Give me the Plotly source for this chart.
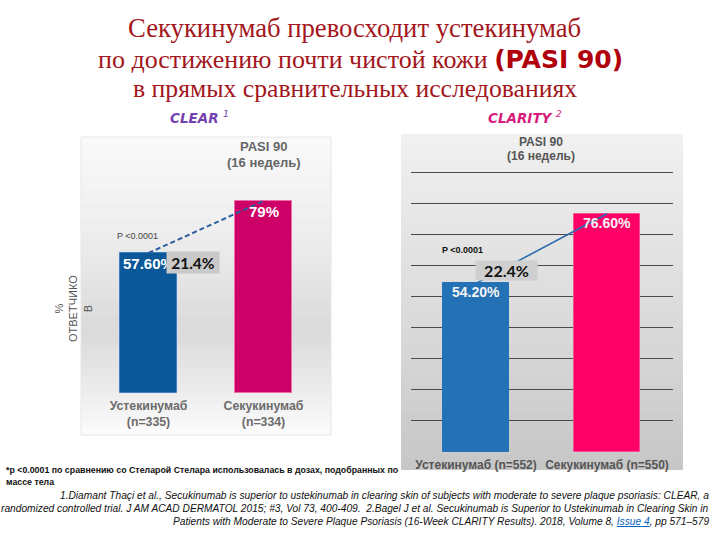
import plotly.graph_objects as go

# ---------------- data ----------------
clear_categories = ["Устекинумаб<br>(n=335)", "Секукинумаб<br>(n=334)"]
clear_values = [57.6, 79.0]
clear_labels = ["57.60%", "79%"]
clear_diff = "21.4%"

clarity_categories = ["Устекинумаб (n=552)", "Секукинумаб (n=550)"]
clarity_values = [54.2, 76.6]
clarity_labels = ["54.20%", "76.60%"]
clarity_diff = "22.4%"

clarity_grid = [0, 10, 20, 30, 40, 50, 60, 70, 80, 90]

W, H = 720, 540
def px(x):
    return x / W
def py(y):
    return 1 - y / H

fig = go.Figure()

# ---------------- traces ----------------
fig.add_trace(go.Bar(
    x=clear_categories, y=clear_values, width=0.5,
    marker=dict(color=["#0b5899", "#cc0066"],
                line=dict(color=["#3d7fc0", "#ee6fa8"], width=1)),
    xaxis="x", yaxis="y", hoverinfo="skip", showlegend=False))
fig.add_trace(go.Scatter(
    x=clear_categories, y=clear_values, mode="lines",
    line=dict(color="#2c5d9e", width=2, dash="5px,3px"),
    xaxis="x", yaxis="y", hoverinfo="skip", showlegend=False))

fig.add_trace(go.Bar(
    x=clarity_categories, y=clarity_values, width=0.5,
    marker=dict(color=["#2571b6", "#ff0066"],
                line=dict(color=["#2571b6", "#ff4d94"], width=1)),
    xaxis="x2", yaxis="y2", hoverinfo="skip", showlegend=False))
fig.add_trace(go.Scatter(
    x=clarity_categories, y=clarity_values, mode="lines",
    line=dict(color="#2b6cad", width=1.6),
    xaxis="x2", yaxis="y2", hoverinfo="skip", showlegend=False))

# ---------------- background panels (gradient strips) ----------------
shapes = []
def lerp(c1, c2, t):
    return tuple(int(round(a + (b - a) * t)) for a, b in zip(c1, c2))

def panel(x0, x1, y0, y1, stops, n=40, border=None):
    for i in range(n):
        t = (i + 0.5) / n
        for j in range(len(stops) - 1):
            if stops[j][0] <= t <= stops[j + 1][0]:
                tt = (t - stops[j][0]) / (stops[j + 1][0] - stops[j][0])
                c = lerp(stops[j][1], stops[j + 1][1], tt)
                break
        ya = y0 + (y1 - y0) * i / n
        yb = y0 + (y1 - y0) * (i + 1) / n
        shapes.append(dict(type="rect", xref="paper", yref="paper",
                           x0=px(x0), x1=px(x1), y0=py(ya), y1=py(min(yb + 0.6, y1)),
                           fillcolor="rgb(%d,%d,%d)" % c, line=dict(width=0),
                           layer="below"))
    if border:
        shapes.append(dict(type="rect", xref="paper", yref="paper",
                           x0=px(x0), x1=px(x1), y0=py(y0), y1=py(y1),
                           line=dict(color=border, width=1), layer="below"))

panel(81, 331, 137, 435,
      [(0, (250, 250, 250)), (0.35, (236, 236, 236)), (0.65, (218, 218, 218)),
       (0.85, (236, 236, 236)), (1, (252, 252, 252))], border="#e6e6e6")
panel(401, 683, 134, 470,
      [(0, (240, 240, 240)), (0.5, (221, 221, 221)), (1, (198, 198, 198))])

# ---------------- annotations ----------------
ann = []
title_color = "#a3161c"
serif = "Liberation Serif"
ann.append(dict(x=px(354), y=py(28), text="Секукинумаб превосходит устекинумаб",
                font=dict(family=serif, size=26.7, color=title_color)))
ann.append(dict(x=px(360), y=py(59),
                text="по достижению почти чистой кожи "
                     "<span style='font-family:DejaVu Sans;font-weight:bold;color:#b0000c;font-size:25px'>(PASI 90)</span>",
                font=dict(family=serif, size=26, color=title_color)))
ann.append(dict(x=px(355), y=py(88), text="в прямых сравнительных исследованиях",
                font=dict(family=serif, size=25.7, color=title_color)))

ann.append(dict(x=px(199), y=py(117), text="<b><i>CLEAR</i></b> <sup><i>1</i></sup>",
                font=dict(family="DejaVu Sans", size=13.5, color="#7440b0")))
ann.append(dict(x=px(525), y=py(117), text="<b><i>CLARITY</i></b> <sup><i>2</i></sup>",
                font=dict(family="DejaVu Sans", size=13.5, color="#d81a7c")))

# y-axis label (left chart)
ann.append(dict(x=px(73), y=py(309), text="%<br>ОТВЕТЧИКО<br>В", textangle=-90,
                font=dict(family="Liberation Sans", size=11, color="#555555")))

# PASI headers
ann.append(dict(x=1, xref="x", y=py(146), text="<b>PASI 90</b>",
                font=dict(family="Liberation Sans", size=13, color="#666666")))
ann.append(dict(x=1, xref="x", y=py(163), text="<b>(16 недель)</b>",
                font=dict(family="Liberation Sans", size=13, color="#666666")))
ann.append(dict(x=px(541), y=py(142), text="<b>PASI 90</b>",
                font=dict(family="Liberation Sans", size=12, color="#555555")))
ann.append(dict(x=px(541), y=py(156), text="<b>(16 недель)</b>",
                font=dict(family="Liberation Sans", size=12, color="#555555")))

# value labels inside bars
for c, v, t in zip(clear_categories, clear_values, clear_labels):
    ann.append(dict(x=c, y=v, xref="x", yref="y", text="<b>%s</b>" % t, yanchor="middle",
                    yshift=-10, font=dict(family="Liberation Sans", size=15, color="#ffffff")))
for c, v, t in zip(clarity_categories, clarity_values, clarity_labels):
    ann.append(dict(x=c, y=v, xref="x2", yref="y2", text="<b>%s</b>" % t, yanchor="middle",
                    yshift=-9, font=dict(family="Liberation Sans", size=14, color="#f4f4f4")))

# difference boxes
ann.append(dict(x=px(193), y=py(262.5), text="<b>%s</b>" % clear_diff,
                bgcolor="#c9c9c9", width=50, height=19,
                font=dict(family="Lato", size=15.5, color="#111111")))
ann.append(dict(x=px(506.5), y=py(270.5), text="<b>%s</b>" % clarity_diff,
                bgcolor="#cfcfcf", width=59, height=17,
                font=dict(family="Lato", size=16, color="#111111")))

# p-values
ann.append(dict(x=px(115), y=py(236), xanchor="left", text="P &lt;0.0001",
                font=dict(family="Liberation Sans", size=9, color="#444444")))
ann.append(dict(x=px(440), y=py(250), xanchor="left", text="<b>P &lt;0.0001</b>",
                font=dict(family="Liberation Sans", size=9, color="#111111")))

# footnote
ann.append(dict(x=px(4), y=py(470), xanchor="left", align="left",
                text="<b>*р &lt;0.0001 по сравнению со Стеларой Стелара использовалась в дозах, подобранных по</b>",
                font=dict(family="Liberation Sans", size=8.8, color="#111111")))
ann.append(dict(x=px(4), y=py(482), xanchor="left", align="left",
                text="<b>массе тела</b>",
                font=dict(family="Liberation Sans", size=8.8, color="#111111")))

refs = [
    "1.Diamant Thaçi et al., Secukinumab is superior to ustekinumab in clearing skin of subjects with moderate to severe plaque psoriasis: CLEAR, a",
    "randomized controlled trial. J AM ACAD DERMATOL 2015; #3, Vol 73, 400-409.  2.Bagel J et al. Secukinumab is Superior to Ustekinumab in Clearing Skin in",
    "Patients with Moderate to Severe Plaque Psoriasis (16-Week CLARITY Results). 2018, Volume 8, "
    "<span style='color:#0563c1'><u>Issue 4</u></span>, pp 571–579",
]
for r, yy in zip(refs, [495, 508, 521]):
    ann.append(dict(x=px(711), y=py(yy), xanchor="right", align="right",
                    text="<i>%s</i>" % r,
                    font=dict(family="Liberation Sans", size=10.2, color="#111111")))

for a in ann:
    a.setdefault("xref", "paper")
    a.setdefault("yref", "paper")
    a.setdefault("showarrow", False)
    a.setdefault("xanchor", "center")
    a.setdefault("yanchor", "middle")

# ---------------- layout ----------------
fig.update_layout(
    width=W, height=H,
    margin=dict(l=0, r=0, t=0, b=0),
    paper_bgcolor="#ffffff", plot_bgcolor="rgba(0,0,0,0)",
    shapes=shapes, annotations=ann, bargap=0,
    xaxis=dict(domain=[px(81), px(331)], range=[-0.587, 1.587], type="category",
               showgrid=False, zeroline=False, showline=False, ticks="",
               ticklabelstandoff=4,
               tickfont=dict(family="Liberation Sans", size=12.3, color="#6b6b6b", weight="bold"),
               anchor="y", fixedrange=True),
    yaxis=dict(domain=[py(393), py(137)], range=[0, 256 / 2.43],
               showgrid=False, zeroline=False, showticklabels=False, showline=False,
               anchor="x", fixedrange=True),
    xaxis2=dict(domain=[px(411), px(673)], range=[-0.496, 1.504], type="category",
                showgrid=False, zeroline=False, showline=False, ticks="",
                ticklabelstandoff=4,
                tickfont=dict(family="Liberation Sans", size=12, color="#555555", weight="bold"),
                anchor="y2", fixedrange=True),
    yaxis2=dict(domain=[py(452), py(134)], range=[0, 318 / 3.111],
                tickvals=clarity_grid, showticklabels=False,
                showgrid=True, gridcolor="#4a4a4a", gridwidth=1.3,
                zeroline=False, showline=False, anchor="x2", fixedrange=True),
)

fig.write_html("out.html", config={"displayModeBar": False},
               post_script="document.body.style.margin='0';document.body.style.overflow='hidden';")
